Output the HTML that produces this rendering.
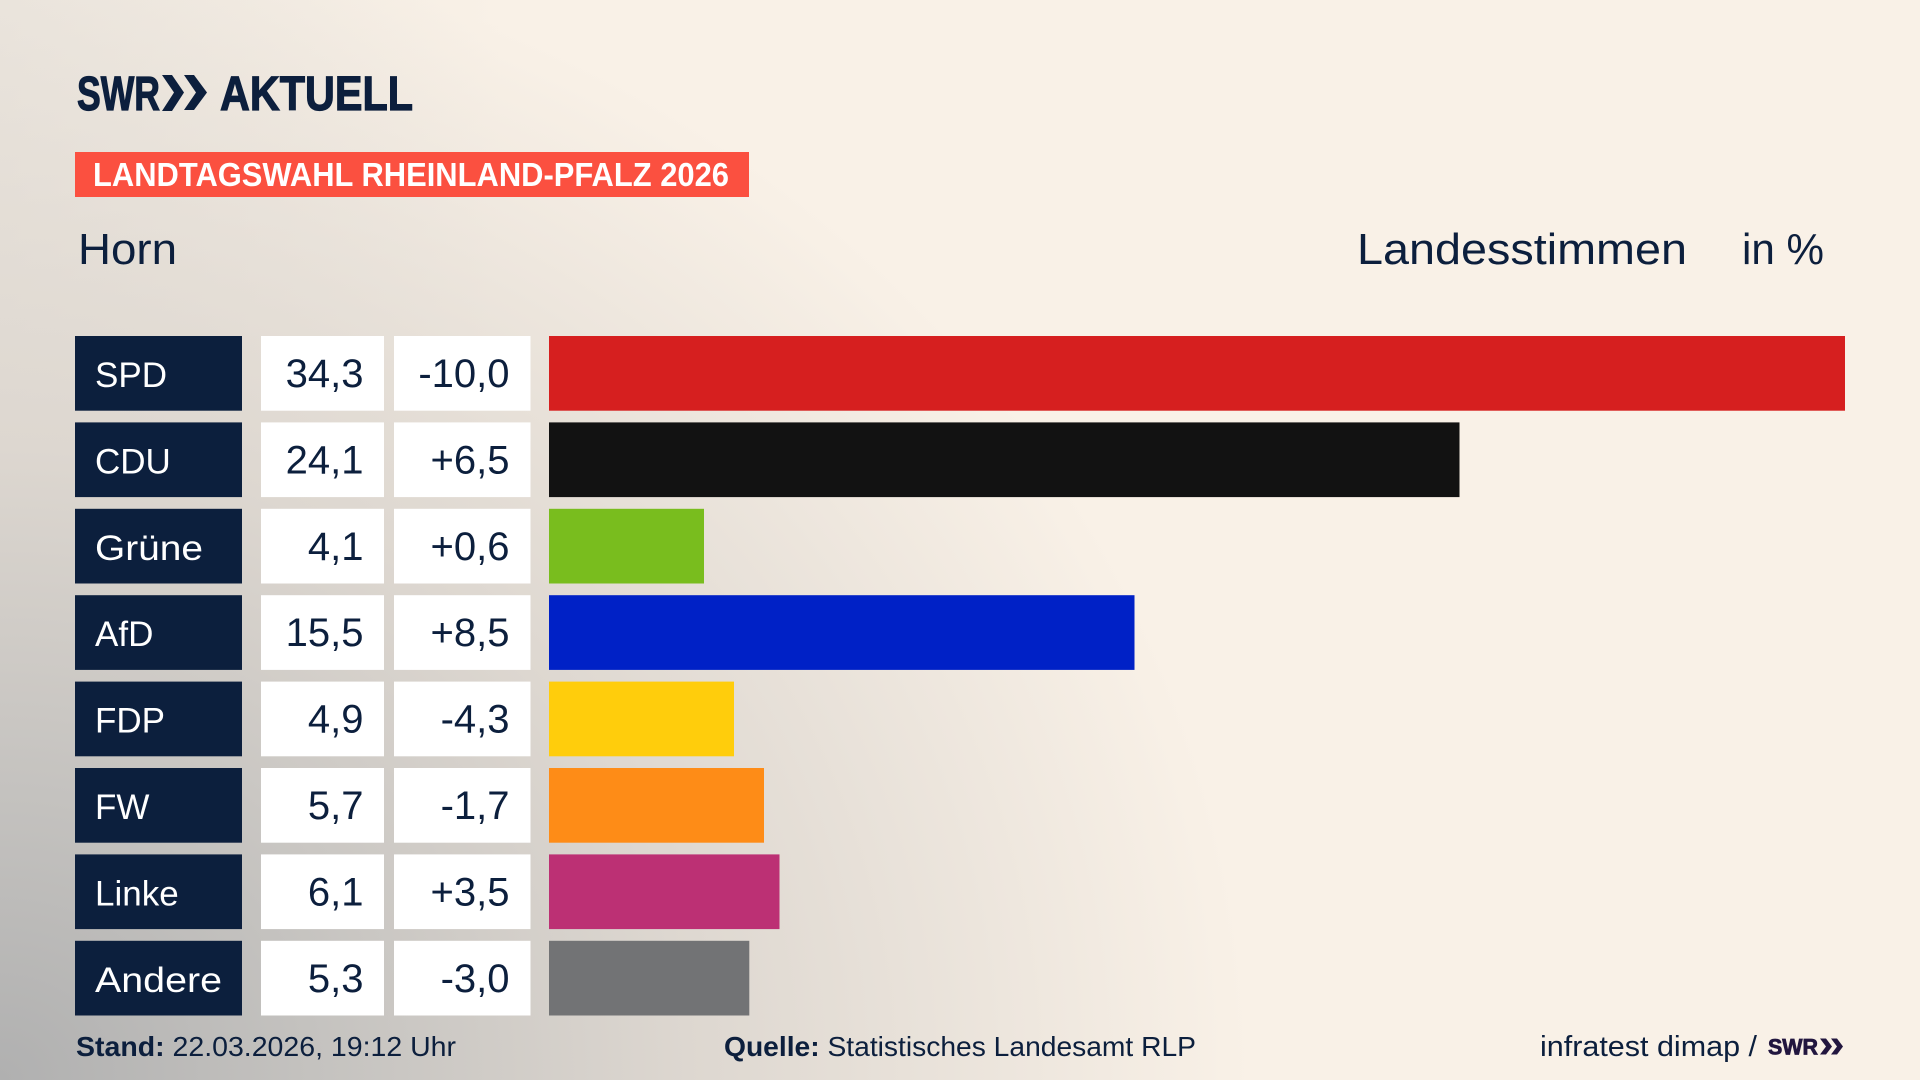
<!DOCTYPE html>
<html lang="de">
<head>
<meta charset="utf-8">
<style>
  html, body { margin: 0; padding: 0; }
  body {
    width: 1920px; height: 1080px; overflow: hidden;
    background:
      radial-gradient(ellipse 1250px 1150px at 0px 1080px, #b0b0b0 0%, #c4c2bf 25%, #ddd7d0 55%, rgba(249,241,231,0) 100%),
      linear-gradient(90deg, #ece6de 0px, rgba(249,241,231,0) 500px),
      #f9f1e7;
    font-family: "Liberation Sans", "DejaVu Sans", sans-serif;
  }
  svg { position: absolute; left: 0; top: 0; }
  .nm { font-size: 35px; fill: #ffffff; }
  .num { font-size: 40px; fill: #0c1f3d; text-anchor: end; }
</style>
</head>
<body>
<svg width="1920" height="1080" viewBox="0 0 1920 1080" xmlns="http://www.w3.org/2000/svg" font-family="Liberation Sans, DejaVu Sans, sans-serif">
  <!-- Logo -->
  <text x="77" y="110" font-size="48" font-weight="bold" fill="#0c1f3d" stroke="#0c1f3d" stroke-width="1.2" textLength="83" lengthAdjust="spacingAndGlyphs">SWR</text>
  <polygon points="162,75 172,75 184,92.5 172,111 162,111 174,92.5" fill="#0c1f3d"/>
  <polygon points="184,75 194,75 207,92.5 194,110 184,110 196,92.5" fill="#0c1f3d"/>
  <text x="220" y="110" font-size="48" font-weight="bold" fill="#0c1f3d" stroke="#0c1f3d" stroke-width="1.2" textLength="193" lengthAdjust="spacingAndGlyphs">AKTUELL</text>

  <!-- Red label -->
  <rect x="75" y="152" width="674" height="45" fill="#fb5040"/>
  <text x="93" y="186" font-size="33" font-weight="bold" fill="#ffffff" textLength="636" lengthAdjust="spacingAndGlyphs">LANDTAGSWAHL RHEINLAND-PFALZ 2026</text>

  <!-- Subheader -->
  <text x="78" y="264" font-size="44" fill="#0c1f3d" textLength="99" lengthAdjust="spacingAndGlyphs">Horn</text>
  <text x="1357" y="264" font-size="44" fill="#0c1f3d" textLength="330" lengthAdjust="spacingAndGlyphs">Landesstimmen</text>
  <text x="1742" y="264" font-size="44" fill="#0c1f3d" textLength="82" lengthAdjust="spacingAndGlyphs">in %</text>

  <!-- Rows -->
  <g>
    <!-- SPD -->
    <rect x="75" y="336" width="167" height="74.7" fill="#0c1f3d"/>
    <rect x="261" y="336" width="123" height="74.7" fill="#ffffff"/>
    <rect x="394" y="336" width="136.5" height="74.7" fill="#ffffff"/>
    <rect x="549" y="336" width="1296" height="74.7" fill="#d61f1f"/>
    <text class="nm" x="95" y="387">SPD</text>
    <text class="num" x="363.5" y="387">34,3</text>
    <text class="num" x="509.5" y="387">-10,0</text>

    <!-- CDU -->
    <rect x="75" y="422.4" width="167" height="74.7" fill="#0c1f3d"/>
    <rect x="261" y="422.4" width="123" height="74.7" fill="#ffffff"/>
    <rect x="394" y="422.4" width="136.5" height="74.7" fill="#ffffff"/>
    <rect x="549" y="422.4" width="910.5" height="74.7" fill="#121212"/>
    <text class="nm" x="95" y="473.4">CDU</text>
    <text class="num" x="363.5" y="473.4">24,1</text>
    <text class="num" x="509.5" y="473.4">+6,5</text>

    <!-- Grüne -->
    <rect x="75" y="508.8" width="167" height="74.7" fill="#0c1f3d"/>
    <rect x="261" y="508.8" width="123" height="74.7" fill="#ffffff"/>
    <rect x="394" y="508.8" width="136.5" height="74.7" fill="#ffffff"/>
    <rect x="549" y="508.8" width="155" height="74.7" fill="#79bd1e"/>
    <text class="nm" x="95" y="559.8" textLength="108" lengthAdjust="spacingAndGlyphs">Grüne</text>
    <text class="num" x="363.5" y="559.8">4,1</text>
    <text class="num" x="509.5" y="559.8">+0,6</text>

    <!-- AfD -->
    <rect x="75" y="595.2" width="167" height="74.7" fill="#0c1f3d"/>
    <rect x="261" y="595.2" width="123" height="74.7" fill="#ffffff"/>
    <rect x="394" y="595.2" width="136.5" height="74.7" fill="#ffffff"/>
    <rect x="549" y="595.2" width="585.5" height="74.7" fill="#0021c6"/>
    <text class="nm" x="95" y="646.2">AfD</text>
    <text class="num" x="363.5" y="646.2">15,5</text>
    <text class="num" x="509.5" y="646.2">+8,5</text>

    <!-- FDP -->
    <rect x="75" y="681.6" width="167" height="74.7" fill="#0c1f3d"/>
    <rect x="261" y="681.6" width="123" height="74.7" fill="#ffffff"/>
    <rect x="394" y="681.6" width="136.5" height="74.7" fill="#ffffff"/>
    <rect x="549" y="681.6" width="185" height="74.7" fill="#ffcd0c"/>
    <text class="nm" x="95" y="732.6">FDP</text>
    <text class="num" x="363.5" y="732.6">4,9</text>
    <text class="num" x="509.5" y="732.6">-4,3</text>

    <!-- FW -->
    <rect x="75" y="768" width="167" height="74.7" fill="#0c1f3d"/>
    <rect x="261" y="768" width="123" height="74.7" fill="#ffffff"/>
    <rect x="394" y="768" width="136.5" height="74.7" fill="#ffffff"/>
    <rect x="549" y="768" width="215" height="74.7" fill="#fe8c17"/>
    <text class="nm" x="95" y="819">FW</text>
    <text class="num" x="363.5" y="819">5,7</text>
    <text class="num" x="509.5" y="819">-1,7</text>

    <!-- Linke -->
    <rect x="75" y="854.4" width="167" height="74.7" fill="#0c1f3d"/>
    <rect x="261" y="854.4" width="123" height="74.7" fill="#ffffff"/>
    <rect x="394" y="854.4" width="136.5" height="74.7" fill="#ffffff"/>
    <rect x="549" y="854.4" width="230.5" height="74.7" fill="#bc3074"/>
    <text class="nm" x="95" y="905.4">Linke</text>
    <text class="num" x="363.5" y="905.4">6,1</text>
    <text class="num" x="509.5" y="905.4">+3,5</text>

    <!-- Andere -->
    <rect x="75" y="940.8" width="167" height="74.7" fill="#0c1f3d"/>
    <rect x="261" y="940.8" width="123" height="74.7" fill="#ffffff"/>
    <rect x="394" y="940.8" width="136.5" height="74.7" fill="#ffffff"/>
    <rect x="549" y="940.8" width="200.3" height="74.7" fill="#727375"/>
    <text class="nm" x="95" y="991.8" textLength="127" lengthAdjust="spacingAndGlyphs">Andere</text>
    <text class="num" x="363.5" y="991.8">5,3</text>
    <text class="num" x="509.5" y="991.8">-3,0</text>
  </g>

  <!-- Footer -->
  <text x="76" y="1056" font-size="28" fill="#0c1f3d" textLength="380" lengthAdjust="spacingAndGlyphs"><tspan font-weight="bold">Stand:</tspan> 22.03.2026, 19:12 Uhr</text>
  <text x="724" y="1056" font-size="28" fill="#0c1f3d" textLength="472" lengthAdjust="spacingAndGlyphs"><tspan font-weight="bold">Quelle:</tspan> Statistisches Landesamt RLP</text>
  <text x="1540" y="1056" font-size="29" fill="#0c1f3d" textLength="217" lengthAdjust="spacingAndGlyphs">infratest dimap /</text>
  <text x="1768" y="1054.5" font-size="22" font-weight="bold" fill="#22163f" stroke="#22163f" stroke-width="0.8" textLength="50" lengthAdjust="spacingAndGlyphs">SWR</text>
  <polygon points="1820,1038.5 1826,1038.5 1832,1046.5 1826,1054.5 1820,1054.5 1826,1046.5" fill="#22163f"/>
  <polygon points="1831,1038.5 1837,1038.5 1843,1046.5 1837,1054.5 1831,1054.5 1837,1046.5" fill="#22163f"/>
</svg>
</body>
</html>
